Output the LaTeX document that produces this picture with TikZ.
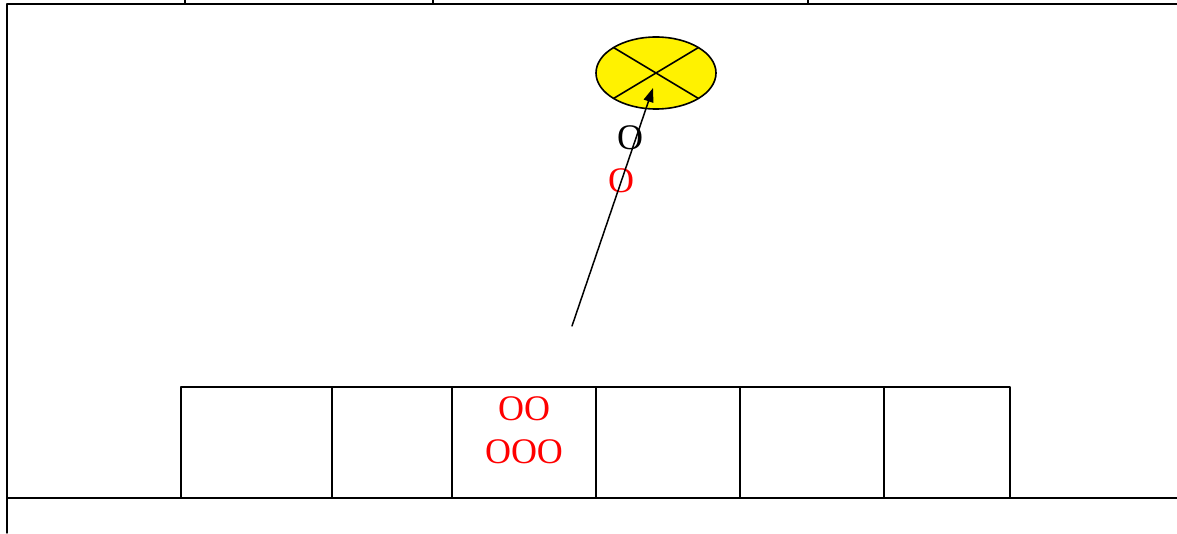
\documentclass[tikz,border=0pt]{standalone}
\usepackage{fontspec}
\setmainfont{Liberation Serif}
\usetikzlibrary{arrows.meta}
\usetikzlibrary{shapes.geometric}
\begin{document}
\begin{tikzpicture}[line cap=round,line join=round,>={Triangle[length=14pt,width=10pt]},x=1pt,y=1pt,
  cell/.style={draw=black,line width=1.6pt,minimum height=111pt,inner sep=0pt,outer sep=0pt,anchor=south west},
  big/.style={font=\fontsize{36}{43}\selectfont,inner sep=0pt}]
\useasboundingbox (0,0) rectangle (1177,533);
% frame
\draw[line width=1.6pt] (7,529) -- (1177,529);
\foreach \x in {185,433,808}
\draw[line width=1.2pt] (\x,529) -- (\x,533);
\draw[line width=1.4pt] (7,0) -- (7,529);
\draw[line width=1.6pt] (7,35) -- (1177,35);
% row of boxes
\node[cell,minimum width=151pt] (b1) at (181,35) {};
\node[cell,minimum width=120pt] (b2) at (b1.south east) {};
\node[cell,minimum width=144pt] (b3) at (b2.south east) {};
\node[cell,minimum width=144pt] (b4) at (b3.south east) {};
\node[cell,minimum width=144pt] (b5) at (b4.south east) {};
\node[cell,minimum width=126pt] (b6) at (b5.south east) {};
\node[big,red] (t1) at (524,124) {OO};
\node[big,red] (t2) at (524,81) {OOO};
% sun
\node[ellipse,draw=black,line width=1.6pt,fill=yellow,minimum width=120pt,minimum height=72pt,outer sep=0pt] (sun) at (656,460) {};
\draw[line width=1.6pt] (sun.north west) -- (sun.south east);
\draw[line width=1.6pt] (sun.north east) -- (sun.south west);
\node[big] (o1) at (630,395) {O};
\node[big,red] (o2) at (621,352) {O};
\coordinate (s) at (572,207);
\coordinate (e) at (653,445);
\draw[->,line width=1.5pt] (s) -- (e);
\end{tikzpicture}
\end{document}
